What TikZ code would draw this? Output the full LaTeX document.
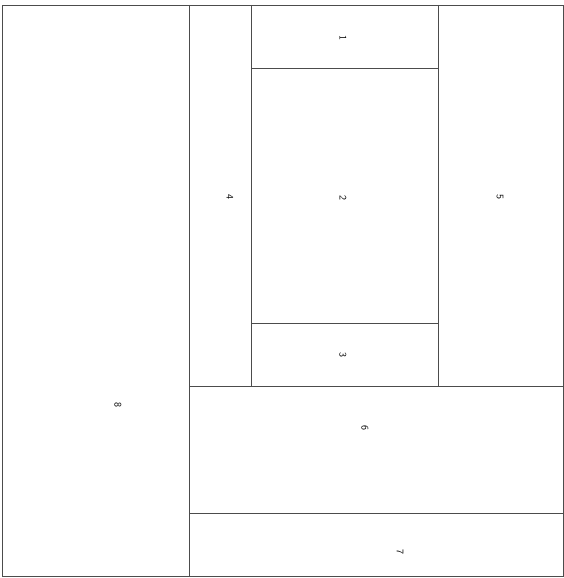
\documentclass[tikz,border=0pt]{standalone}
\usepackage{tikz}
\usetikzlibrary{positioning}

\begin{document}
\begin{tikzpicture}[x=1pt,y=-1pt,line width=0.8pt]
        \tikzset{patch/.style={draw=black!70},num/.style={rotate=-90,font=\sffamily}}
        \useasboundingbox (0,0) rectangle (564,578);
        % outer block and seams
        \draw[patch] (2,5) rectangle (563,576);
        \draw[patch] (189,5) -- (189,576);
        \draw[patch] (251,5) -- (251,386);
        \draw[patch] (438,5) -- (438,386);
        \draw[patch] (251,68) -- (438,68);
        \draw[patch] (251,323) -- (438,323);
        \draw[patch] (189,386) -- (563,386);
        \draw[patch] (189,513) -- (563,513);
        % piece numbers
        \node[num] (p1) at (343,38) {1};
        \node[num] (p2) at (343,198) {2};
        \node[num] (p3) at (343,355) {3};
        \node[num] (p4) at (230,197) {4};
        \node[num] (p5) at (500,197) {5};
        \node[num] (p6) at (365,428) {6};
        \node[num] (p7) at (400,552) {7};
        \node[num] (p8) at (118,405) {8};
    \end{tikzpicture}
\end{document}
